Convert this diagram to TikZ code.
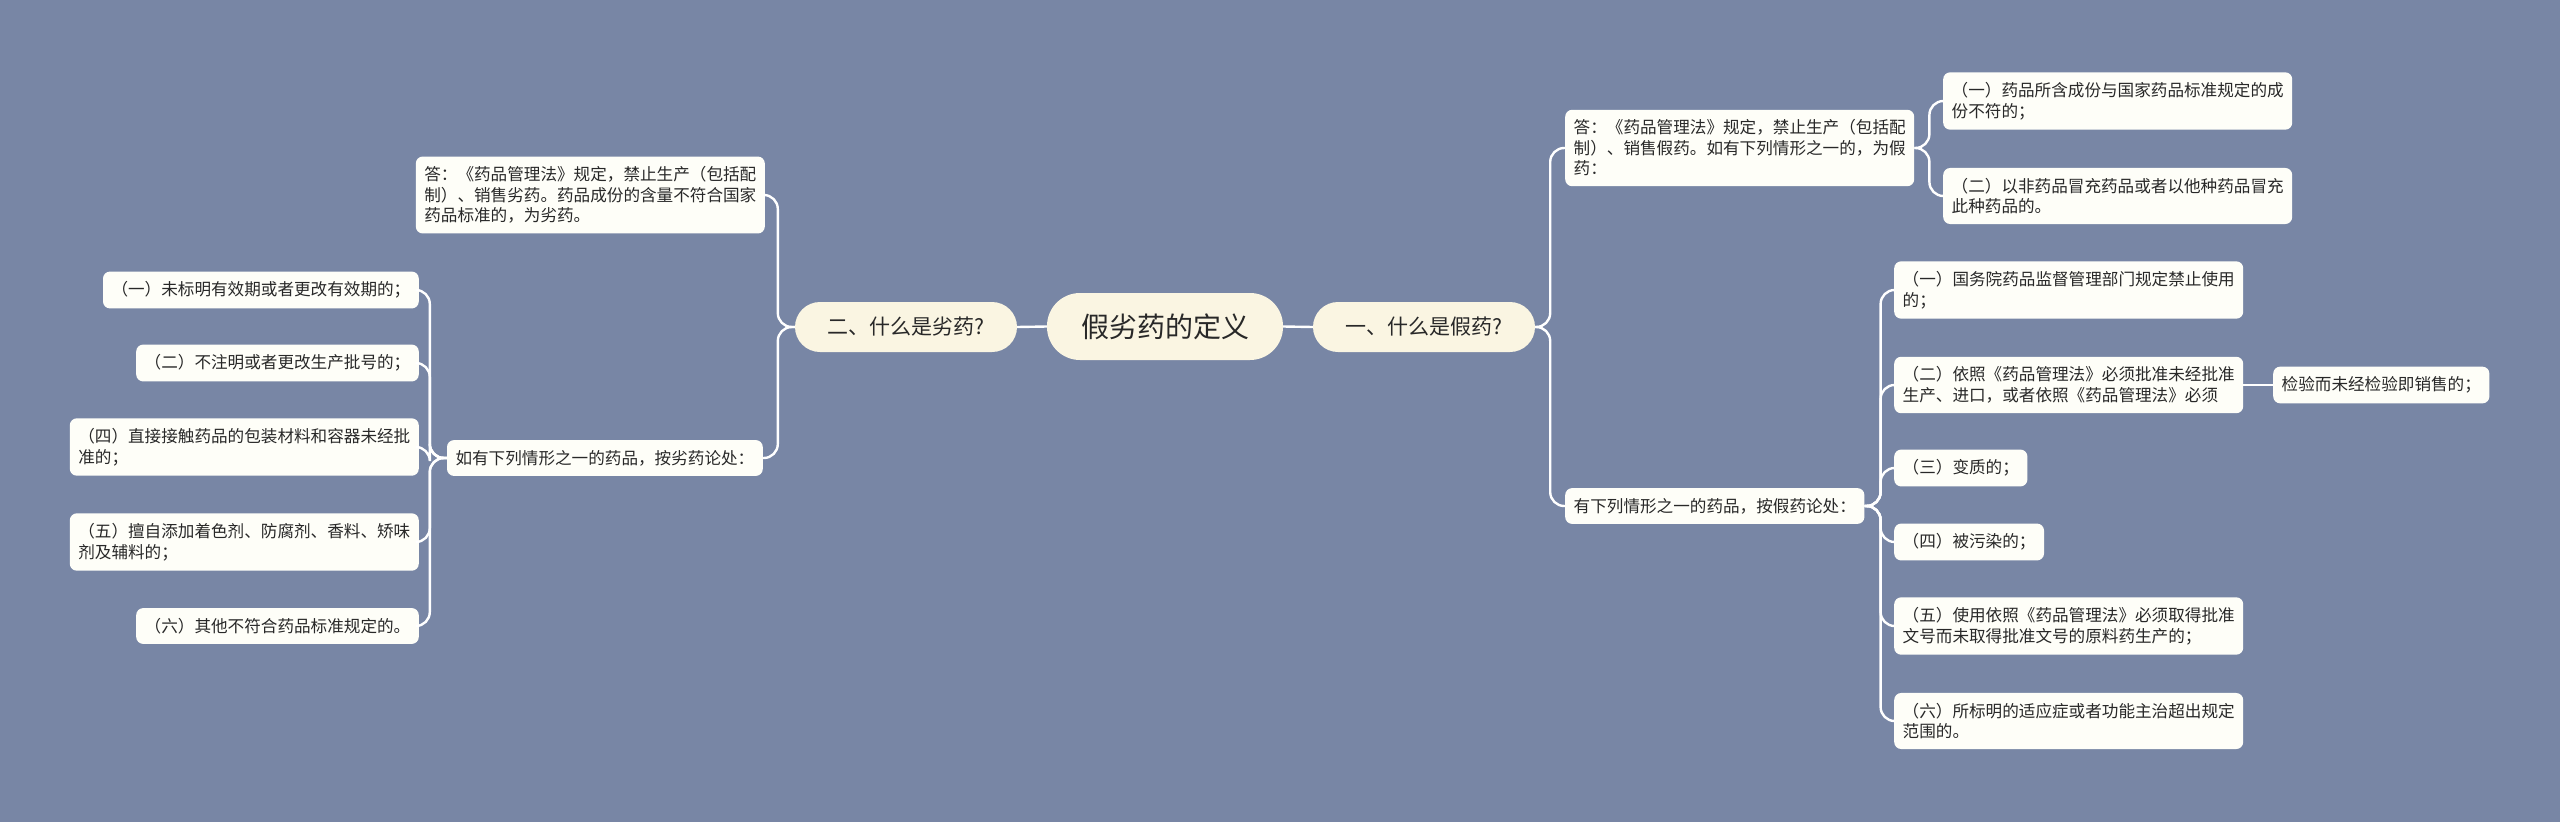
\documentclass[tikz,border=0pt]{standalone}
\usepackage{fontspec}
\newfontfamily\cjk{Noto Sans CJK SC}
\definecolor{bg}{RGB}{120,134,165}
\definecolor{leaffill}{RGB}{254,254,248}
\definecolor{pillfill}{RGB}{250,245,226}
\definecolor{txt}{RGB}{40,40,40}
\begin{document}
\begin{tikzpicture}[x=1pt,y=-1pt,
  leaf/.style={fill=leaffill, rounded corners=7pt, align=left, inner xsep=8.5pt, inner ysep=10pt, text=txt, font=\cjk\fontsize{16.6}{20.5}\selectfont},
  pill/.style={fill=pillfill, rounded corners=25pt, minimum width=222pt, minimum height=50pt, inner sep=0pt, text=txt, font=\cjk\fontsize{21}{24}\selectfont},
  rootbox/.style={fill=pillfill, rounded corners=33pt, minimum width=236pt, minimum height=67pt, inner sep=0pt, text=txt, font=\cjk\fontsize{28}{32}\selectfont},
  link/.style={draw=white, line width=2.4pt, rounded corners=14pt}]
\useasboundingbox (0,0) rectangle (2560,822);
\fill[bg] (0,0) rectangle (2560,822);

% root and level 1
\node[rootbox] (C) at (1165,326.5) {假劣药的定义};
\node[pill] (R1) at (1424,327) {一、什么是假药?};
\node[pill] (L1) at (906,327) {二、什么是劣药?};

% right side
\node[leaf, anchor=west] (RA) at (1565,148) {答：《药品管理法》规定，禁止生产（包括配\\制）、销售假药。如有下列情形之一的，为假\\药：};
\node[leaf, anchor=west] (RA1) at (1943,101) {（一）药品所含成份与国家药品标准规定的成\\份不符的；};
\node[leaf, anchor=west] (RA2) at (1943,196) {（二）以非药品冒充药品或者以他种药品冒充\\此种药品的。};
\node[leaf, anchor=west] (RB) at (1565,506) {有下列情形之一的药品，按假药论处：};
\node[leaf, anchor=west] (RB1) at (1894,290) {（一）国务院药品监督管理部门规定禁止使用\\的；};
\node[leaf, anchor=west] (RB2) at (1894,385) {（二）依照《药品管理法》必须批准未经批准\\生产、进口，或者依照《药品管理法》必须};
\node[leaf, anchor=west] (RB3) at (1894,468) {（三）变质的；};
\node[leaf, anchor=west] (RB4) at (1894,542) {（四）被污染的；};
\node[leaf, anchor=west] (RB5) at (1894,626) {（五）使用依照《药品管理法》必须取得批准\\文号而未取得批准文号的原料药生产的；};
\node[leaf, anchor=west] (RB6) at (1894,721) {（六）所标明的适应症或者功能主治超出规定\\范围的。};
\node[leaf, anchor=west] (RBX) at (2273,385) {检验而未经检验即销售的；};

% left side
\node[leaf, anchor=east] (LA) at (765,195) {答：《药品管理法》规定，禁止生产（包括配\\制）、销售劣药。药品成份的含量不符合国家\\药品标准的，为劣药。};
\node[leaf, anchor=east] (LB) at (763,458) {如有下列情形之一的药品，按劣药论处：};
\node[leaf, anchor=east] (LB1) at (419,290) {（一）未标明有效期或者更改有效期的；};
\node[leaf, anchor=east] (LB2) at (419,363) {（二）不注明或者更改生产批号的；};
\node[leaf, anchor=east] (LB4) at (419,447) {（四）直接接触药品的包装材料和容器未经批\\准的；};
\node[leaf, anchor=east] (LB5) at (419,542) {（五）擅自添加着色剂、防腐剂、香料、矫味\\剂及辅料的；};
\node[leaf, anchor=east] (LB6) at (419,626) {（六）其他不符合药品标准规定的。};

% connectors
\draw[link] (C.east) -- (R1.west);
\draw[link] (C.west) -- (L1.east);

\draw[link] (R1.east) -- ++(15,0) |- (RA.west);
\draw[link] (R1.east) -- ++(15,0) |- (RB.west);
\draw[link] (RA.east) -- ++(15,0) |- (RA1.west);
\draw[link] (RA.east) -- ++(15,0) |- (RA2.west);
\foreach \n in {RB1,RB2,RB3,RB4,RB5,RB6}
  \draw[link] (RB.east) -- ++(16,0) |- (\n.west);
\draw[link] (RB2.east) -- (RBX.west);

\draw[link] (L1.west) -- ++(-17,0) |- (LA.east);
\draw[link] (L1.west) -- ++(-17,0) |- (LB.east);
\foreach \n in {LB1,LB2,LB4,LB5,LB6}
  \draw[link] (LB.west) -- ++(-17,0) |- (\n.east);
\end{tikzpicture}
\end{document}
